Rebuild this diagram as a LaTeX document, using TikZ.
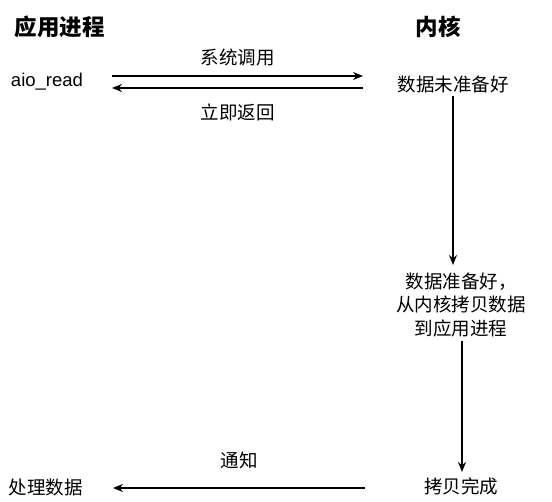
\documentclass[tikz,border=0pt]{standalone}
\usepackage{fontspec}
\setmainfont{Noto Sans CJK SC}
\newfontfamily\latinfont{Liberation Sans}
\usetikzlibrary{arrows.meta}
\begin{document}
\begin{tikzpicture}[x=1pt,y=-1pt,
  lbl/.style={inner sep=0pt,font=\fontsize{18.5}{23.5}\selectfont,align=center},
  ttl/.style={inner sep=0pt,font=\fontsize{22.5}{27}\selectfont\bfseries},
  arr/.style={line width=1.2pt,-{Stealth[length=10pt,width=8pt]}}]
\useasboundingbox (0,0) rectangle (552,502);
\node[ttl] (app) at (60,27) {应用进程};
\node[ttl] (ker) at (438,27) {内核};
\node[lbl,font=\latinfont\fontsize{18.5}{22}\selectfont] (aio) at (47,82) {aio\_read};
\node[lbl] (nr) at (453,84) {数据未准备好};
\node[lbl] (rd) at (461,305) {数据准备好，\\从内核拷贝数据\\到应用进程};
\node[lbl] (cp) at (461,486) {拷贝完成};
\node[lbl] (proc) at (46,487) {处理数据};
\coordinate (a1s) at (112,76);
\coordinate (a1e) at (363,76);
\coordinate (a2s) at (363,88);
\coordinate (a2e) at (112,88);
\coordinate (v1s) at (453,96);
\coordinate (v1e) at (453,265);
\coordinate (v2s) at (462,341);
\coordinate (v2e) at (462,472);
\coordinate (bs) at (365,488);
\coordinate (be) at (113,488);
\draw[arr] (a1s) -- node[lbl,above=9pt] (sc) {系统调用} (a1e);
\draw[arr] (a2s) -- node[lbl,below=15pt] (ret) {立即返回} (a2e);
\draw[arr] (v1s) -- (v1e);
\draw[arr] (v2s) -- (v2e);
\draw[arr] (bs) -- node[lbl,above=18pt] (nt) {通知} (be);
\end{tikzpicture}
\end{document}
